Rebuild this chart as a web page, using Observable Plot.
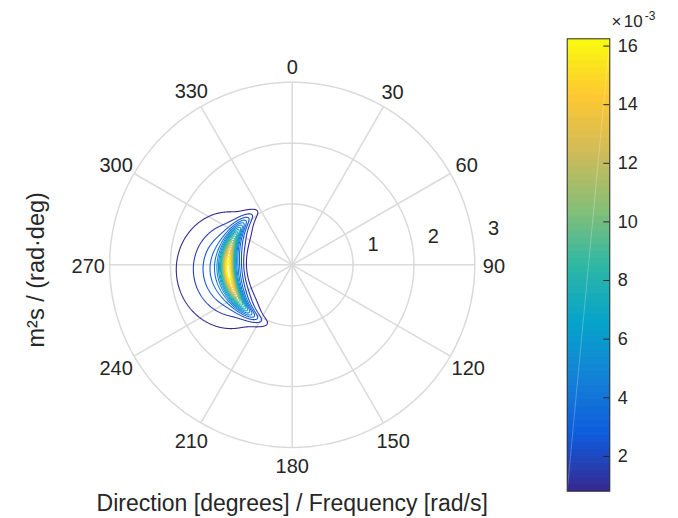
<!DOCTYPE html>
<html><head><meta charset="utf-8">
<script src="https://cdn.jsdelivr.net/npm/d3@7"></script>
<script src="https://cdn.jsdelivr.net/npm/@observablehq/plot@0.6"></script>
<style>
body{margin:0;background:#fff;}
#wrap{position:relative;width:678px;height:518px;overflow:hidden;font-family:"Liberation Sans",Arial,sans-serif;}
#wrap svg{position:absolute;left:0;top:0;overflow:visible;}
</style></head><body><div id="wrap"></div>
<script>
// ---------- data ----------
const angleTicks = [0, 30, 60, 90, 120, 150, 180, 210, 240, 270, 300, 330];
const radiusTicks = [1, 2, 3];
const contourLevels = [0.8124, 1.6248, 2.4372, 3.2496, 4.062, 4.8744, 5.6868, 6.4992, 7.3116, 8.124,
  8.9364, 9.7488, 10.5612, 11.3736, 12.186, 12.9984, 13.8108, 14.6232, 15.4356, 16.248]; // x10^-3
const colorbarTicks = [2, 4, 6, 8, 10, 12, 14, 16];
const colorLimits = [0.8124, 16.248];
// spectrum parameters (peak frequency, peak direction, peak density, spreading)
const peakFrequency = 1.05;     // rad/s
const peakDirection = 265;      // degrees
const peakDensity = 17.06;      // x10^-3 m^2 s/(rad deg)
const peakEnhancement = 3.3;
const spreadingPower = 4;
const xLabel = "Direction [degrees] / Frequency [rad/s]";
const yLabel = "m²s / (rad·deg)";
const parulaStops = ["#38288f", "#0f5cdd", "#1481d6", "#06a4ca", "#2eb7a4", "#87bf77", "#d1bb59", "#fec832", "#f9fb0e"];

// ---------- helpers ----------
const parula = d3.piecewise(d3.interpolateRgb, parulaStops);
const rad = Math.PI / 180;
function jonswap(w) {
  if (w < 0.05) return 0;
  const s = w <= peakFrequency ? 0.07 : 0.09;
  const g = Math.pow(peakEnhancement, Math.exp(-((w - peakFrequency) ** 2) / (2 * s * s * peakFrequency * peakFrequency)));
  return Math.pow(w, -5) * Math.exp(-1.25 * Math.pow(peakFrequency / w, 4)) * g;
}
const jpeak = jonswap(peakFrequency);
function spectrum(x, y) {
  const w = Math.hypot(x, y);
  const th = Math.atan2(x, y) / rad;
  let d = ((th - peakDirection) % 360 + 540) % 360 - 180;
  if (Math.abs(d) >= 90) return 0;
  return peakDensity * (jonswap(w) / jpeak) * Math.pow(Math.cos(d * rad), spreadingPower);
}
const gridColor = "#dadada";
const textColor = "#262626";
const Rmax = radiusTicks[radiusTicks.length - 1];
const cx = 291.7, cy = 264.3, Rpx = 182.6;

const circlePts = radiusTicks.flatMap(r => d3.range(0, 361, 2).map(a => ({r, a})));

const colorScale = {type: "linear", domain: colorLimits, interpolate: parula};

const main = Plot.plot({
  width: 678, height: 518, margin: 0,
  x: {domain: [-Rmax, Rmax], range: [cx - Rpx, cx + Rpx], axis: null},
  y: {domain: [-Rmax, Rmax], range: [cy + Rpx, cy - Rpx], axis: null},
  color: colorScale,
  style: {fontFamily: "'Liberation Sans', Arial, sans-serif", background: "transparent"},
  marks: [
    Plot.line(circlePts, {x: d => d.r * Math.sin(d.a * rad), y: d => d.r * Math.cos(d.a * rad), z: "r", stroke: gridColor, strokeWidth: 1.5}),
    Plot.link(angleTicks, {x1: 0, y1: 0, x2: a => Rmax * Math.sin(a * rad), y2: a => Rmax * Math.cos(a * rad), stroke: gridColor, strokeWidth: 1.5}),
    Plot.contour({stroke: spectrum, fill: "none", x1: -2.4, x2: 0.4, y1: -1.9, y2: 1.9, thresholds: contourLevels, pixelSize: 0.5, strokeWidth: 1.1}),
    Plot.text(angleTicks, {
      x: a => (3.28 + 0.035 * (String(a).length - 1) * Math.abs(Math.sin(a * rad))) * Math.sin(a * rad),
      y: a => (3.28 + 0.035 * (String(a).length - 1) * Math.abs(Math.sin(a * rad))) * Math.cos(a * rad),
      text: a => String(a), dy: 2, fontSize: 20, fill: textColor, textAnchor: "middle", lineAnchor: "middle"
    }),
    Plot.text(radiusTicks, {
      x: r => r * Math.sin(82.3 * rad), y: r => r * Math.cos(82.3 * rad),
      text: r => String(r), dx: 20.5, dy: -12, fontSize: 20, fill: textColor, textAnchor: "middle", lineAnchor: "middle"
    }),
    Plot.text([xLabel], {x: 0, frameAnchor: "bottom", dy: -8, lineAnchor: "bottom", textAnchor: "middle", fontSize: 23, fill: textColor}),
    Plot.text([yLabel], {y: 0, frameAnchor: "left", dx: 43.3, dy: 5, rotate: -90, lineAnchor: "bottom", textAnchor: "middle", fontSize: 23.5, fill: textColor})
  ]
});

const cbL = 566.7, cbR = 609.3, cbT = 38.3, cbB = 490.7;
const [lo, hi] = colorLimits;
const nColors = 64;
const multiplier = [{t: "×", dx: 1.8, dy: -11.6, size: 17}, {t: "10", dx: 14, dy: -11.6, size: 17}, {t: "-3", dx: 35, dy: -19, size: 12}];
const colorbar = Plot.plot({
  width: 678, height: 518,
  marginLeft: cbL, marginRight: 678 - cbR, marginTop: cbT, marginBottom: 518 - cbB,
  x: {domain: [0, 1], axis: null},
  y: {domain: colorLimits, axis: null},
  color: colorScale,
  style: {fontFamily: "'Liberation Sans', Arial, sans-serif", background: "transparent"},
  marks: [
    Plot.raster({fill: (x, y) => lo + (Math.min(nColors - 1, Math.floor((y - lo) / (hi - lo) * nColors)) + 0.5) / nColors * (hi - lo),
      x1: 0, x2: 1, y1: lo, y2: hi, pixelSize: 1}),
    Plot.link([0], {x1: 0, y1: lo, x2: 1, y2: hi, stroke: "white", strokeOpacity: 0.25, strokeWidth: 1}),
    Plot.ruleY(colorbarTicks, {x1: 0.86, x2: 1, stroke: textColor, strokeWidth: 1}),
    Plot.text(colorbarTicks, {x: 1, y: d => d, text: d => String(d), dx: 8, textAnchor: "start", lineAnchor: "middle", fontSize: 18, fill: textColor}),
    Plot.frame({stroke: textColor, strokeWidth: 1}),
    ...multiplier.map(m => Plot.text([m.t], {x: 1, y: hi, dx: m.dx, dy: m.dy, textAnchor: "start", lineAnchor: "bottom", fontSize: m.size, fill: textColor}))
  ]
});

const wrap = document.getElementById("wrap");
wrap.appendChild(main);
wrap.appendChild(colorbar);
</script></body></html>
